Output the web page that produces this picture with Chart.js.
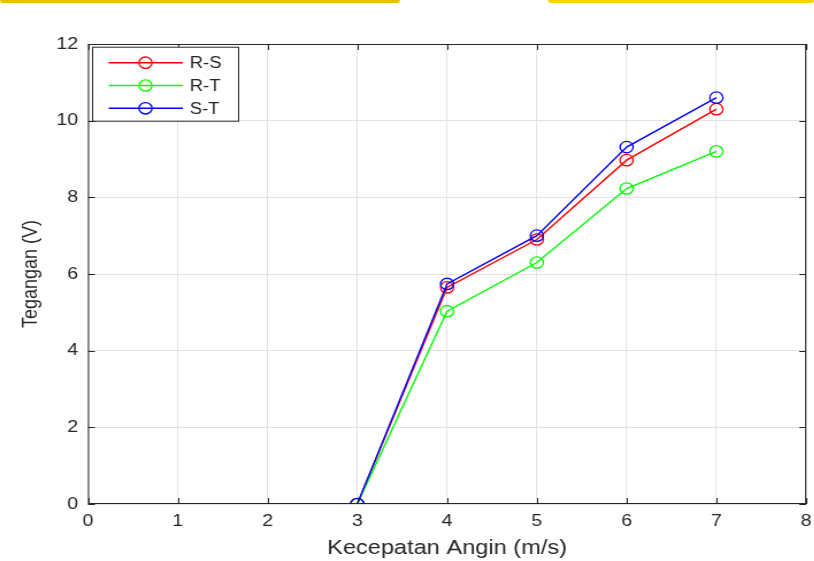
<!DOCTYPE html>
<html><head><meta charset="utf-8">
<script src="https://cdn.jsdelivr.net/npm/chart.js@4/dist/chart.umd.min.js"></script>
<style>
html,body{margin:0;padding:0;background:#fff;overflow:hidden;}
#wrap{position:relative;width:814px;height:561px;}
#stretch{position:absolute;left:0;top:0;width:708px;height:561px;transform:scaleX(1.15);transform-origin:0 0;}
.bar{position:absolute;top:0;height:3px;border-radius:0 0 3px 3px;z-index:2;}
</style></head>
<body><div id="wrap">
<div id="stretch"><canvas id="c" width="708" height="561"></canvas></div>
<div class="bar" style="left:0;width:400px;background:#e8c200;"></div>
<div class="bar" style="left:548px;width:266px;background:#f7d400;"></div>
</div>
<script>
const speeds = [3, 4, 5, 6, 7];
const rs = [0, 5.65, 6.9, 8.97, 10.3];
const rt = [0, 5.03, 6.3, 8.23, 9.2];
const st = [0, 5.74, 7.0, 9.31, 10.6];
const seriesNames = ['R-S', 'R-T', 'S-T'];
const seriesColors = ['#ff0000', '#00ff00', '#0000ff'];
const xTicks = [0,1,2,3,4,5,6,7,8];
const yTicks = [0,2,4,6,8,10,12];

const mk = (vals, i) => ({
  label: seriesNames[i],
  data: speeds.map((x, k) => ({x, y: vals[k]})),
  borderColor: seriesColors[i],
  backgroundColor: 'rgba(0,0,0,0)',
  borderWidth: 1.4,
  pointRadius: 5.7,
  pointBorderWidth: 1.3,
  pointStyle: 'circle',
  tension: 0,
  order: 3 - i
});

const FONT = '"Liberation Sans", Arial, sans-serif';
const axisColor = '#262626';
const boxPlugin = {
  id: 'box',
  afterDatasetsDraw(chart) {
    const {ctx, chartArea: a, scales} = chart;
    ctx.save();
    ctx.strokeStyle = axisColor;
    ctx.lineWidth = 1;
    ctx.strokeRect(a.left + 0.5, a.top + 0.5, a.right - a.left - 1, a.bottom - a.top - 1);
    ctx.beginPath();
    xTicks.forEach(v => {
      const x = Math.round(scales.x.getPixelForValue(v)) + 0.5;
      ctx.moveTo(x, a.bottom); ctx.lineTo(x, a.bottom - 6);
      ctx.moveTo(x, a.top); ctx.lineTo(x, a.top + 6);
    });
    yTicks.forEach(v => {
      const y = Math.round(scales.y.getPixelForValue(v)) + 0.5;
      ctx.moveTo(a.left, y); ctx.lineTo(a.left + 6, y);
      ctx.moveTo(a.right, y); ctx.lineTo(a.right - 6, y);
    });
    ctx.stroke();
    // legend box
    const lx = a.left + 3.5, ly = a.top + 2.7, lw = 127, lh = 74;
    ctx.fillStyle = '#fff';
    ctx.fillRect(lx, ly, lw, lh);
    ctx.strokeRect(lx + 0.5, ly + 0.5, lw, lh);
    ctx.font = '16px ' + FONT;
    ctx.textBaseline = 'middle';
    chart.data.datasets.forEach((ds, i) => {
      const yy = ly + 16 + i * 22.8;
      ctx.strokeStyle = ds.borderColor;
      ctx.lineWidth = 1.4;
      ctx.beginPath();
      ctx.moveTo(lx + 14.5, yy); ctx.lineTo(lx + 79, yy); ctx.stroke();
      ctx.lineWidth = 1.3;
      ctx.beginPath(); ctx.arc(lx + 46.5, yy, 5.7, 0, Math.PI * 2); ctx.stroke();
      ctx.fillStyle = axisColor;
      ctx.fillText(ds.label, lx + 85, yy + 1);
    });
    ctx.restore();
  }
};

new Chart(document.getElementById('c'), {
  type: 'line',
  data: { datasets: [mk(rs, 0), mk(rt, 1), mk(st, 2)] },
  options: {
    responsive: false,
    animation: false,
    devicePixelRatio: 1,
    layout: { padding: { left: 0, top: 44, right: 6.3, bottom: 0 } },
    plugins: { legend: { display: false }, tooltip: { enabled: false } },
    scales: {
      x: {
        type: 'linear', min: 0, max: 8,
        afterBuildTicks: s => { s.ticks = xTicks.map(v => ({value: v})); },
        afterFit: s => { s.height = 57; s.paddingLeft = 0; s.paddingRight = 0; },
        grid: { color: '#e2e2e2', drawTicks: false, lineWidth: 1 },
        border: { display: false },
        ticks: { color: axisColor, padding: 7, font: { size: 17, family: FONT }, maxRotation: 0 },
        title: { display: true, text: 'Kecepatan Angin (m/s)', color: axisColor, padding: { top: 0, bottom: 0 }, font: { size: 20.5, family: FONT } }
      },
      y: {
        type: 'linear', min: 0, max: 12,
        afterBuildTicks: s => { s.ticks = yTicks.map(v => ({value: v})); },
        afterFit: s => { s.width = 76.5; s.paddingTop = 0; s.paddingBottom = 0; },
        grid: { color: '#e2e2e2', drawTicks: false, lineWidth: 1 },
        border: { display: false },
        ticks: { color: axisColor, padding: 8.5, font: { size: 17, family: FONT } },
        title: { display: true, text: 'Tegangan (V)', color: axisColor, padding: { top: 16, bottom: 0 }, font: { size: 18, family: FONT } }
      }
    }
  },
  plugins: [boxPlugin]
});
</script></body></html>
